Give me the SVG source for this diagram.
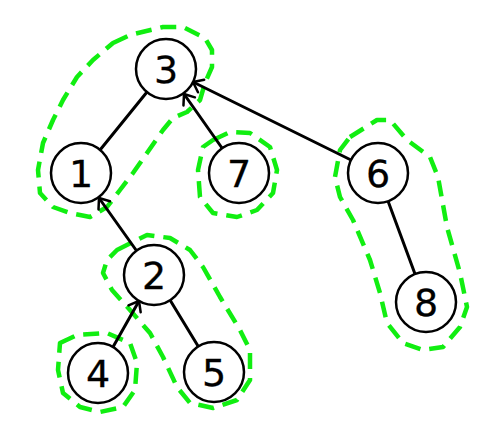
<svg xmlns="http://www.w3.org/2000/svg" width="487" height="429" viewBox="0 0 487 429">
<style>
.node circle{fill:#fff;stroke:#000;stroke-width:2.5}
.node text{font-family:"DejaVu Sans","Liberation Sans",sans-serif;font-size:38px;text-anchor:middle;dominant-baseline:central;fill:#000;stroke:#000;stroke-width:0.3}
.edge{stroke:#000;stroke-width:3;fill:none;stroke-linecap:round}
.grp{fill:none;stroke:#11ee11;stroke-width:4.5;stroke-dasharray:16 9;stroke-linejoin:round}
</style>
<defs>
<marker id="arr" markerUnits="userSpaceOnUse" markerWidth="20" markerHeight="20" refX="0" refY="0" viewBox="-12 -10 14 20" orient="auto">
<path d="M -9 -7 L 0 0 L -9 7" fill="none" stroke="#000" stroke-width="2.5" stroke-linecap="round" stroke-linejoin="round"/>
</marker>
</defs>
<rect width="487" height="429" fill="#fff"/>
<g id="groups">
<path class="grp" d="M113,43 L130,35 L163,27 L183,27 L205,38 L212,50 L212,67 L205,83 L200,100 L187,112 L173,118 L163,130 L147,153 L133,173 L120,190 L107,207 L90,217 L70,213 L53,207 L40,193 L38,170 L43,143 L53,120 L63,100 L77,77 L93,60 Z"/>
<path class="grp" d="M213,140 L230,132 L250,133 L270,147 L277,170 L273,193 L257,210 L237,217 L213,213 L200,197 L198,170 L203,147 Z"/>
<path class="grp" d="M350,137 L377,120 L390,120 L407,140 L430,157 L438,177 L447,227 L460,273 L467,307 L460,327 L443,347 L423,350 L403,343 L387,323 L380,293 L370,260 L353,220 L340,197 L335,177 L340,150 Z"/>
<path class="grp" d="M117,250 L147,235 L170,238 L190,250 L203,267 L220,297 L240,330 L250,350 L250,380 L237,400 L213,408 L190,403 L177,387 L163,357 L150,333 L130,310 L112,290 L103,273 L107,260 Z"/>
<path class="grp" d="M60,343 L77,335 L107,333 L130,343 L137,363 L135,390 L123,407 L100,412 L80,407 L63,393 L58,370 Z"/>
</g>
<g id="edges">
<line class="edge" x1="147" y1="92" x2="100" y2="150"/>
<line class="edge" x1="222" y1="148" x2="184" y2="94" marker-end="url(#arr)"/>
<line class="edge" x1="351" y1="160" x2="193" y2="82" marker-end="url(#arr)"/>
<line class="edge" x1="136" y1="250" x2="99" y2="198" marker-end="url(#arr)"/>
<line class="edge" x1="113" y1="347" x2="139" y2="301" marker-end="url(#arr)"/>
<line class="edge" x1="170" y1="300" x2="198" y2="346"/>
<line class="edge" x1="388" y1="201" x2="415" y2="274"/>
</g>
<g id="n3" class="node"><circle cx="166" cy="69" r="30"/><text x="166" y="70">3</text></g>
<g id="n1" class="node"><circle cx="81" cy="173" r="30"/><text x="81" y="174">1</text></g>
<g id="n7" class="node"><circle cx="239" cy="173" r="30"/><text x="239" y="174">7</text></g>
<g id="n6" class="node"><circle cx="378" cy="173" r="30"/><text x="378" y="174">6</text></g>
<g id="n8" class="node"><circle cx="426" cy="302" r="30"/><text x="426" y="303">8</text></g>
<g id="n2" class="node"><circle cx="154" cy="275" r="30"/><text x="154" y="276">2</text></g>
<g id="n4" class="node"><circle cx="98" cy="373" r="30"/><text x="98" y="374">4</text></g>
<g id="n5" class="node"><circle cx="214" cy="372" r="30"/><text x="214" y="373">5</text></g>
</svg>
